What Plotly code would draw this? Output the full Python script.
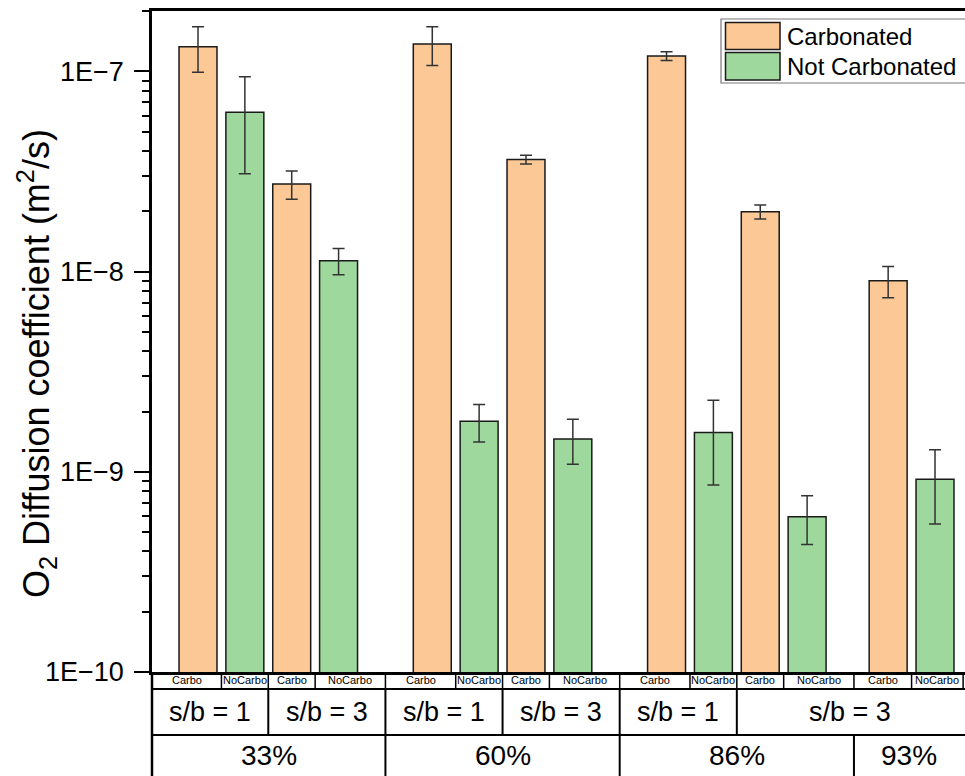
import plotly.graph_objects as go

# ---------------- data ----------------
percent = ["33%", "33%", "60%", "60%", "86%", "86%", "93%"]
sb_ratio = ["s/b = 1", "s/b = 3", "s/b = 1", "s/b = 3", "s/b = 1", "s/b = 3", "s/b = 3"]
pair_labels = ["Carbo", "NoCarbo"]
series_names = ["Carbonated", "Not Carbonated"]

carbo = [1.33e-7, 2.74e-8, 1.37e-7, 3.63e-8, 1.195e-7, 1.99e-8, 9.0e-9]
carbo_err = [3.4e-8, 4.4e-9, 3.0e-8, 1.8e-9, 6.0e-9, 1.6e-9, 1.6e-9]
nocarbo = [6.25e-8, 1.135e-8, 1.79e-9, 1.46e-9, 1.57e-9, 5.96e-10, 9.18e-10]
nocarbo_err = [3.17e-8, 1.7e-9, 3.8e-10, 3.7e-10, 7.1e-10, 1.63e-10, 3.7e-10]

y_tickvals = [1e-10, 1e-9, 1e-8, 1e-7]
y_ticktext = ["1E\u221210", "1E\u22129", "1E\u22128", "1E\u22127"]
y_title = "O<sub>2</sub> Diffusion coefficient (m<sup>2</sup>/s)"

# ---------------- layout constants ----------------
W, H = 965, 776
ML, MR, MT, MB = 152, 0, 11, 104
PW, PH = W - ML - MR, H - MT - MB
X_MIN, X_MAX = -0.982, 16.37
Y_RANGE = [-10, -6.698]
FONT = "Liberation Sans, Arial, sans-serif"
C_ORANGE = "#FBC896"
C_GREEN = "#9ED89C"
BAR_W = 0.81

group_order = []
for p in percent:
    if p not in group_order:
        group_order.append(p)
GROUP_START = dict(zip(group_order, [0, 5, 10, 14.73]))
GROUP_EDGE = dict(zip(group_order, [(X_MIN, 4), (4, 9), (9, 14), (14, 16.33)]))

# slot positions
carbo_x, nocarbo_x = [], []
count = {}
for p in percent:
    j = count.get(p, 0)
    count[p] = j + 1
    cx = GROUP_START[p] + 2 * j
    carbo_x.append(cx)
    nocarbo_x.append(cx + 1)


def xp(x):
    return (x - X_MIN) / (X_MAX - X_MIN)


def ypx(py):  # pixel row -> paper y
    return ((MT + PH) - py) / PH


def xpx(px):  # pixel col -> paper x
    return (px - ML) / PW


fig = go.Figure()
fig.add_trace(go.Bar(
    x=carbo_x, y=carbo, name=series_names[0], width=BAR_W,
    marker=dict(color=C_ORANGE, line=dict(color="#1a1a1a", width=1.5)),
    error_y=dict(type="data", array=carbo_err, color="#333333", thickness=1.5, width=6),
    showlegend=False,
))
fig.add_trace(go.Bar(
    x=nocarbo_x, y=nocarbo, name=series_names[1], width=BAR_W,
    marker=dict(color=C_GREEN, line=dict(color="#1a1a1a", width=1.5)),
    error_y=dict(type="data", array=nocarbo_err, color="#333333", thickness=1.5, width=6),
    showlegend=False,
))

shapes = []
annotations = []

# ---------- table below axis ----------
ROW_PX = [672, 689, 735, H + 2]

# row 1 cells
slots = []
for i, p in enumerate(percent):
    slots.append((p, carbo_x[i], pair_labels[0]))
    slots.append((p, nocarbo_x[i], pair_labels[1]))
row1 = []
for k, (p, x, lab) in enumerate(slots):
    if k > 0 and slots[k - 1][0] == p:
        left = (slots[k - 1][1] + x) / 2
    else:
        left = GROUP_EDGE[p][0]
    if k < len(slots) - 1 and slots[k + 1][0] == p:
        right = (slots[k + 1][1] + x) / 2
    else:
        right = GROUP_EDGE[p][1]
    row1.append([left, right, lab])

# row 2 cells (merge adjacent equal labels)
row2 = []
for i in range(len(percent)):
    left = row1[2 * i][0]
    right = row1[2 * i + 1][1]
    lab = sb_ratio[i]
    if row2 and row2[-1][2] == lab and abs(row2[-1][1] - left) < 1e-9:
        row2[-1][1] = right
    else:
        row2.append([left, right, lab])

# row 3 cells
row3 = [[GROUP_EDGE[g][0], GROUP_EDGE[g][1], g] for g in group_order]

rows = [(row1, 11, 1.5, True), (row2, 27, 2, False), (row3, 28, 2, False)]
for r, (cells, fsize, lw, right_edge) in enumerate(rows):
    y0 = ypx(ROW_PX[r])
    y1 = ypx(ROW_PX[r + 1] if r < 2 else 776)
    for (a, b, lab) in cells:
        annotations.append(dict(
            x=(xp(a) + xp(min(b, X_MAX))) / 2, y=(y0 + y1) / 2, xref="paper", yref="paper",
            text=lab, showarrow=False, xanchor="center", yanchor="middle",
            font=dict(size=fsize, color="black", family=FONT)))
        edges = [b] if (b < GROUP_EDGE[group_order[-1]][1] - 1e-9 or right_edge) else []
        for e in edges:
            shapes.append(dict(type="line", xref="paper", yref="paper",
                               x0=xp(e), x1=xp(e), y0=y0, y1=ypx(ROW_PX[r + 1]),
                               line=dict(color="black", width=lw)))
    if r < 2:
        shapes.append(dict(type="line", xref="paper", yref="paper",
                           x0=0, x1=1, y0=y1, y1=y1,
                           line=dict(color="black", width=2)))

# left spine extension through table
shapes.append(dict(type="line", xref="paper", yref="paper", x0=0, x1=0,
                   y0=0, y1=ypx(H + 2), line=dict(color="black", width=2.5)))

# ---------- legend (drawn) ----------
shapes.append(dict(type="rect", xref="paper", yref="paper",
                   x0=xpx(721), x1=xpx(990), y0=ypx(19), y1=ypx(83),
                   line=dict(color="#777777", width=1.2), fillcolor="white"))
leg_rows = [(22.5, 49.5, C_ORANGE, series_names[0]), (52.5, 80, C_GREEN, series_names[1])]
for (t, b, col, name) in leg_rows:
    shapes.append(dict(type="rect", xref="paper", yref="paper",
                       x0=xpx(725.5), x1=xpx(780), y0=ypx(t), y1=ypx(b),
                       line=dict(color="#1a1a1a", width=1.5), fillcolor=col))
    annotations.append(dict(x=xpx(785), y=ypx((t + b) / 2), xref="paper", yref="paper",
                            text=name, showarrow=False, xanchor="left", yanchor="middle",
                            font=dict(size=24, color="black", family=FONT)))

# y-axis title
annotations.append(dict(x=xpx(36), y=ypx(364), xref="paper", yref="paper",
                        text=y_title, textangle=-90, showarrow=False,
                        xanchor="center", yanchor="middle",
                        font=dict(size=36, color="black", family=FONT)))

minor_vals = [k * v for v in y_tickvals for k in range(2, 10)]

fig.update_layout(
    width=W, height=H,
    margin=dict(l=ML, r=MR, t=MT, b=MB, pad=0),
    paper_bgcolor="white", plot_bgcolor="white",
    barmode="overlay",
    font=dict(family=FONT, color="black"),
    shapes=shapes, annotations=annotations,
    xaxis=dict(range=[X_MIN, X_MAX], showline=True, linecolor="black", linewidth=2.5,
               mirror=True, showticklabels=False, ticks="", showgrid=False, zeroline=False),
    yaxis=dict(type="log", range=Y_RANGE, showline=True, linecolor="black", linewidth=2.5,
               mirror=False, tickmode="array", tickvals=y_tickvals, ticktext=y_ticktext,
               ticks="outside", ticklen=15, tickwidth=2, tickcolor="black",
               ticklabelstandoff=5,
               tickfont=dict(size=27, color="black", family=FONT),
               showgrid=False, zeroline=False,
               minor=dict(tickmode="array", tickvals=minor_vals, ticks="outside",
                          ticklen=7, tickwidth=2, tickcolor="black", showgrid=False)),
)

fig.write_html(
    "out.html",
    config={"displayModeBar": False},
    post_script="document.body.style.margin='0';document.body.style.padding='0';"
                "document.documentElement.style.overflow='hidden';",
)
